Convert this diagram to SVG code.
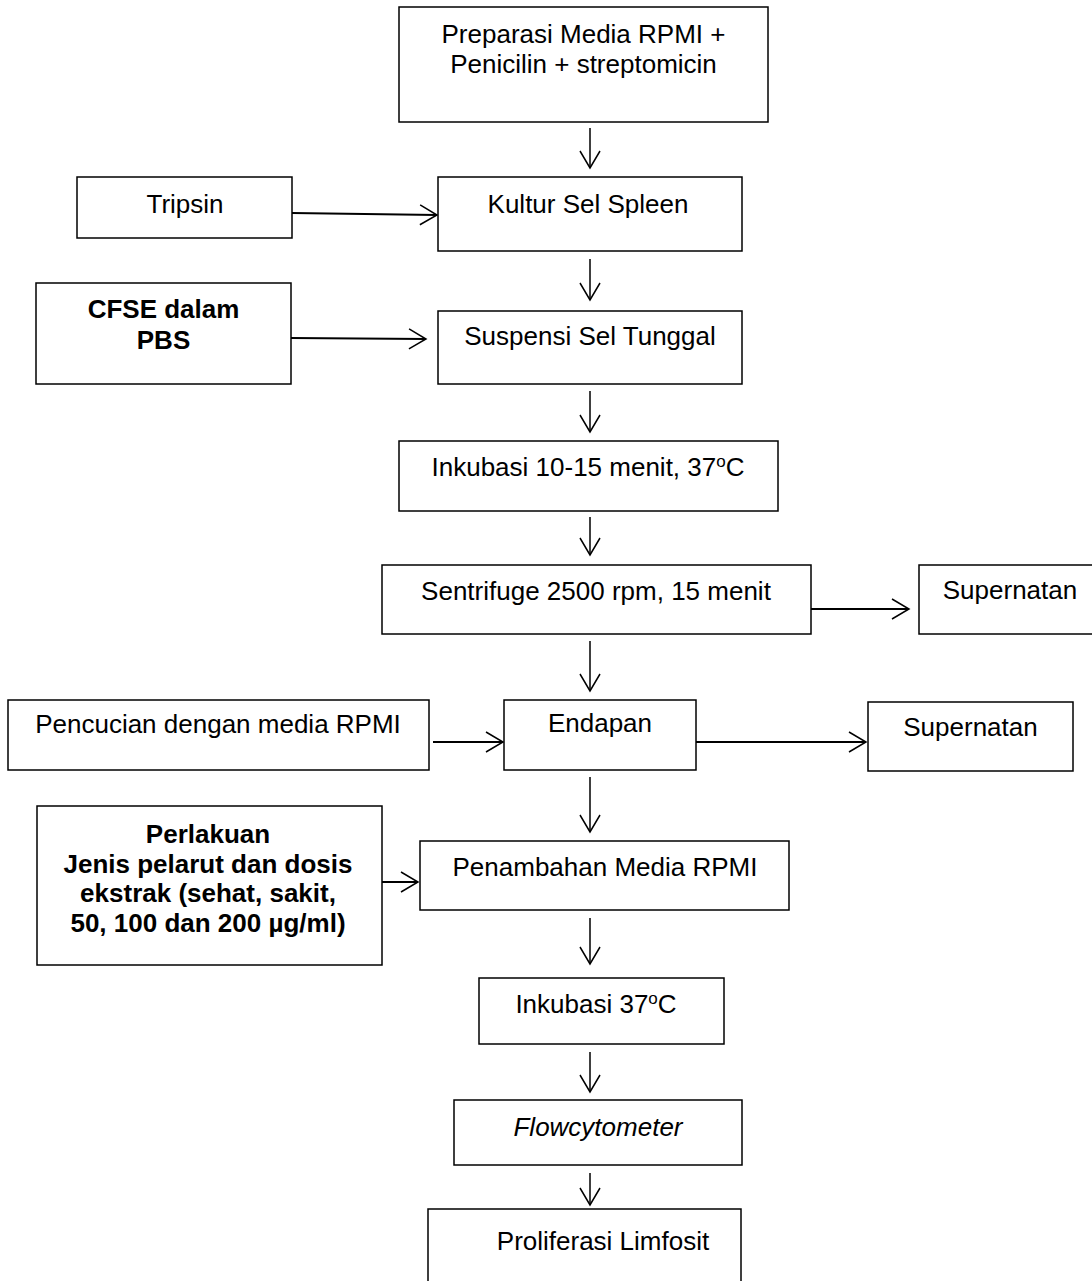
<svg xmlns="http://www.w3.org/2000/svg" width="1092" height="1281" viewBox="0 0 1092 1281">
<style>
.box{fill:#fff;stroke:#000;stroke-width:1.5}
.t{font-family:"Liberation Sans",Arial,sans-serif;font-size:26px;fill:#000;text-anchor:middle}
.b{font-weight:bold}
.i{font-style:italic}
.c{fill:none;stroke:#000;stroke-width:1.5}
.h{stroke-width:2}
</style>
<defs>
<marker id="ah" markerUnits="userSpaceOnUse" viewBox="0 0 20 22" refX="18" refY="11" markerWidth="20" markerHeight="22" orient="auto">
<path d="M1,1 L18,11 L1,21" fill="none" stroke="#000" stroke-width="1.5"/>
</marker>
</defs>
<rect width="1092" height="1281" fill="#fff"/>
<g id="connectors">
<line class="c" x1="590" y1="128" x2="590" y2="168" marker-end="url(#ah)"/>
<line class="c" x1="590" y1="259" x2="590" y2="300" marker-end="url(#ah)"/>
<line class="c" x1="590" y1="391" x2="590" y2="432" marker-end="url(#ah)"/>
<line class="c" x1="590" y1="517" x2="590" y2="555" marker-end="url(#ah)"/>
<line class="c" x1="590" y1="641" x2="590" y2="691" marker-end="url(#ah)"/>
<line class="c" x1="590" y1="777" x2="590" y2="832" marker-end="url(#ah)"/>
<line class="c" x1="590" y1="918" x2="590" y2="964" marker-end="url(#ah)"/>
<line class="c" x1="590" y1="1052" x2="590" y2="1092" marker-end="url(#ah)"/>
<line class="c" x1="590" y1="1173" x2="590" y2="1205" marker-end="url(#ah)"/>
<line class="c h" x1="292" y1="213" x2="437" y2="215" marker-end="url(#ah)"/>
<line class="c h" x1="291" y1="338" x2="426" y2="339" marker-end="url(#ah)"/>
<line class="c h" x1="811" y1="609" x2="909" y2="609" marker-end="url(#ah)"/>
<line class="c h" x1="433" y1="742" x2="503" y2="742" marker-end="url(#ah)"/>
<line class="c h" x1="696" y1="742" x2="866" y2="742" marker-end="url(#ah)"/>
<line class="c h" x1="382" y1="882" x2="418" y2="882" marker-end="url(#ah)"/>
</g>
<g id="n-preparasi"><rect class="box" x="399" y="7" width="369" height="115"/>
<text class="t" x="583.5" y="43">Preparasi Media RPMI +</text>
<text class="t" x="583.5" y="73">Penicilin + streptomicin</text></g>
<g id="n-tripsin"><rect class="box" x="77" y="177" width="215" height="61"/>
<text class="t" x="185" y="213">Tripsin</text></g>
<g id="n-kultur"><rect class="box" x="438" y="177" width="304" height="74"/>
<text class="t" x="588" y="213">Kultur Sel Spleen</text></g>
<g id="n-cfse"><rect class="box" x="36" y="283" width="255" height="101"/>
<text class="t b" x="163.5" y="318">CFSE dalam</text>
<text class="t b" x="163.5" y="349">PBS</text></g>
<g id="n-suspensi"><rect class="box" x="438" y="311" width="304" height="73"/>
<text class="t" x="590" y="345">Suspensi Sel Tunggal</text></g>
<g id="n-inkubasi1"><rect class="box" x="399" y="441" width="379" height="70"/>
<text class="t" x="588" y="476">Inkubasi 10-15 menit, 37<tspan font-size="17" dy="-9">o</tspan><tspan dy="9">C</tspan></text></g>
<g id="n-sentrifuge"><rect class="box" x="382" y="565" width="429" height="69"/>
<text class="t" x="596" y="600">Sentrifuge 2500 rpm, 15 menit</text></g>
<g id="n-supernatan1"><rect class="box" x="919" y="565" width="190" height="69"/>
<text class="t" x="1010" y="599">Supernatan</text></g>
<g id="n-pencucian"><rect class="box" x="8" y="700" width="421" height="70"/>
<text class="t" x="218" y="733">Pencucian dengan media RPMI</text></g>
<g id="n-endapan"><rect class="box" x="504" y="700" width="192" height="70"/>
<text class="t" x="600" y="732">Endapan</text></g>
<g id="n-supernatan2"><rect class="box" x="868" y="702" width="205" height="69"/>
<text class="t" x="970.5" y="736">Supernatan</text></g>
<g id="n-perlakuan"><rect class="box" x="37" y="806" width="345" height="159"/>
<text class="t b" x="208" y="843">Perlakuan</text>
<text class="t b" x="208" y="873">Jenis pelarut dan dosis</text>
<text class="t b" x="208" y="902">ekstrak (sehat, sakit,</text>
<text class="t b" x="208" y="932">50, 100 dan 200 µg/ml)</text></g>
<g id="n-penambahan"><rect class="box" x="420" y="841" width="369" height="69"/>
<text class="t" x="605" y="876">Penambahan Media RPMI</text></g>
<g id="n-inkubasi2"><rect class="box" x="479" y="978" width="245" height="66"/>
<text class="t" x="596" y="1013">Inkubasi 37<tspan font-size="17" dy="-9">o</tspan><tspan dy="9">C</tspan></text></g>
<g id="n-flow"><rect class="box" x="454" y="1100" width="288" height="65"/>
<text class="t i" x="598" y="1136">Flowcytometer</text></g>
<g id="n-proliferasi"><rect class="box" x="428" y="1209" width="313" height="80"/>
<text class="t" x="603" y="1250">Proliferasi Limfosit</text></g>
</svg>
